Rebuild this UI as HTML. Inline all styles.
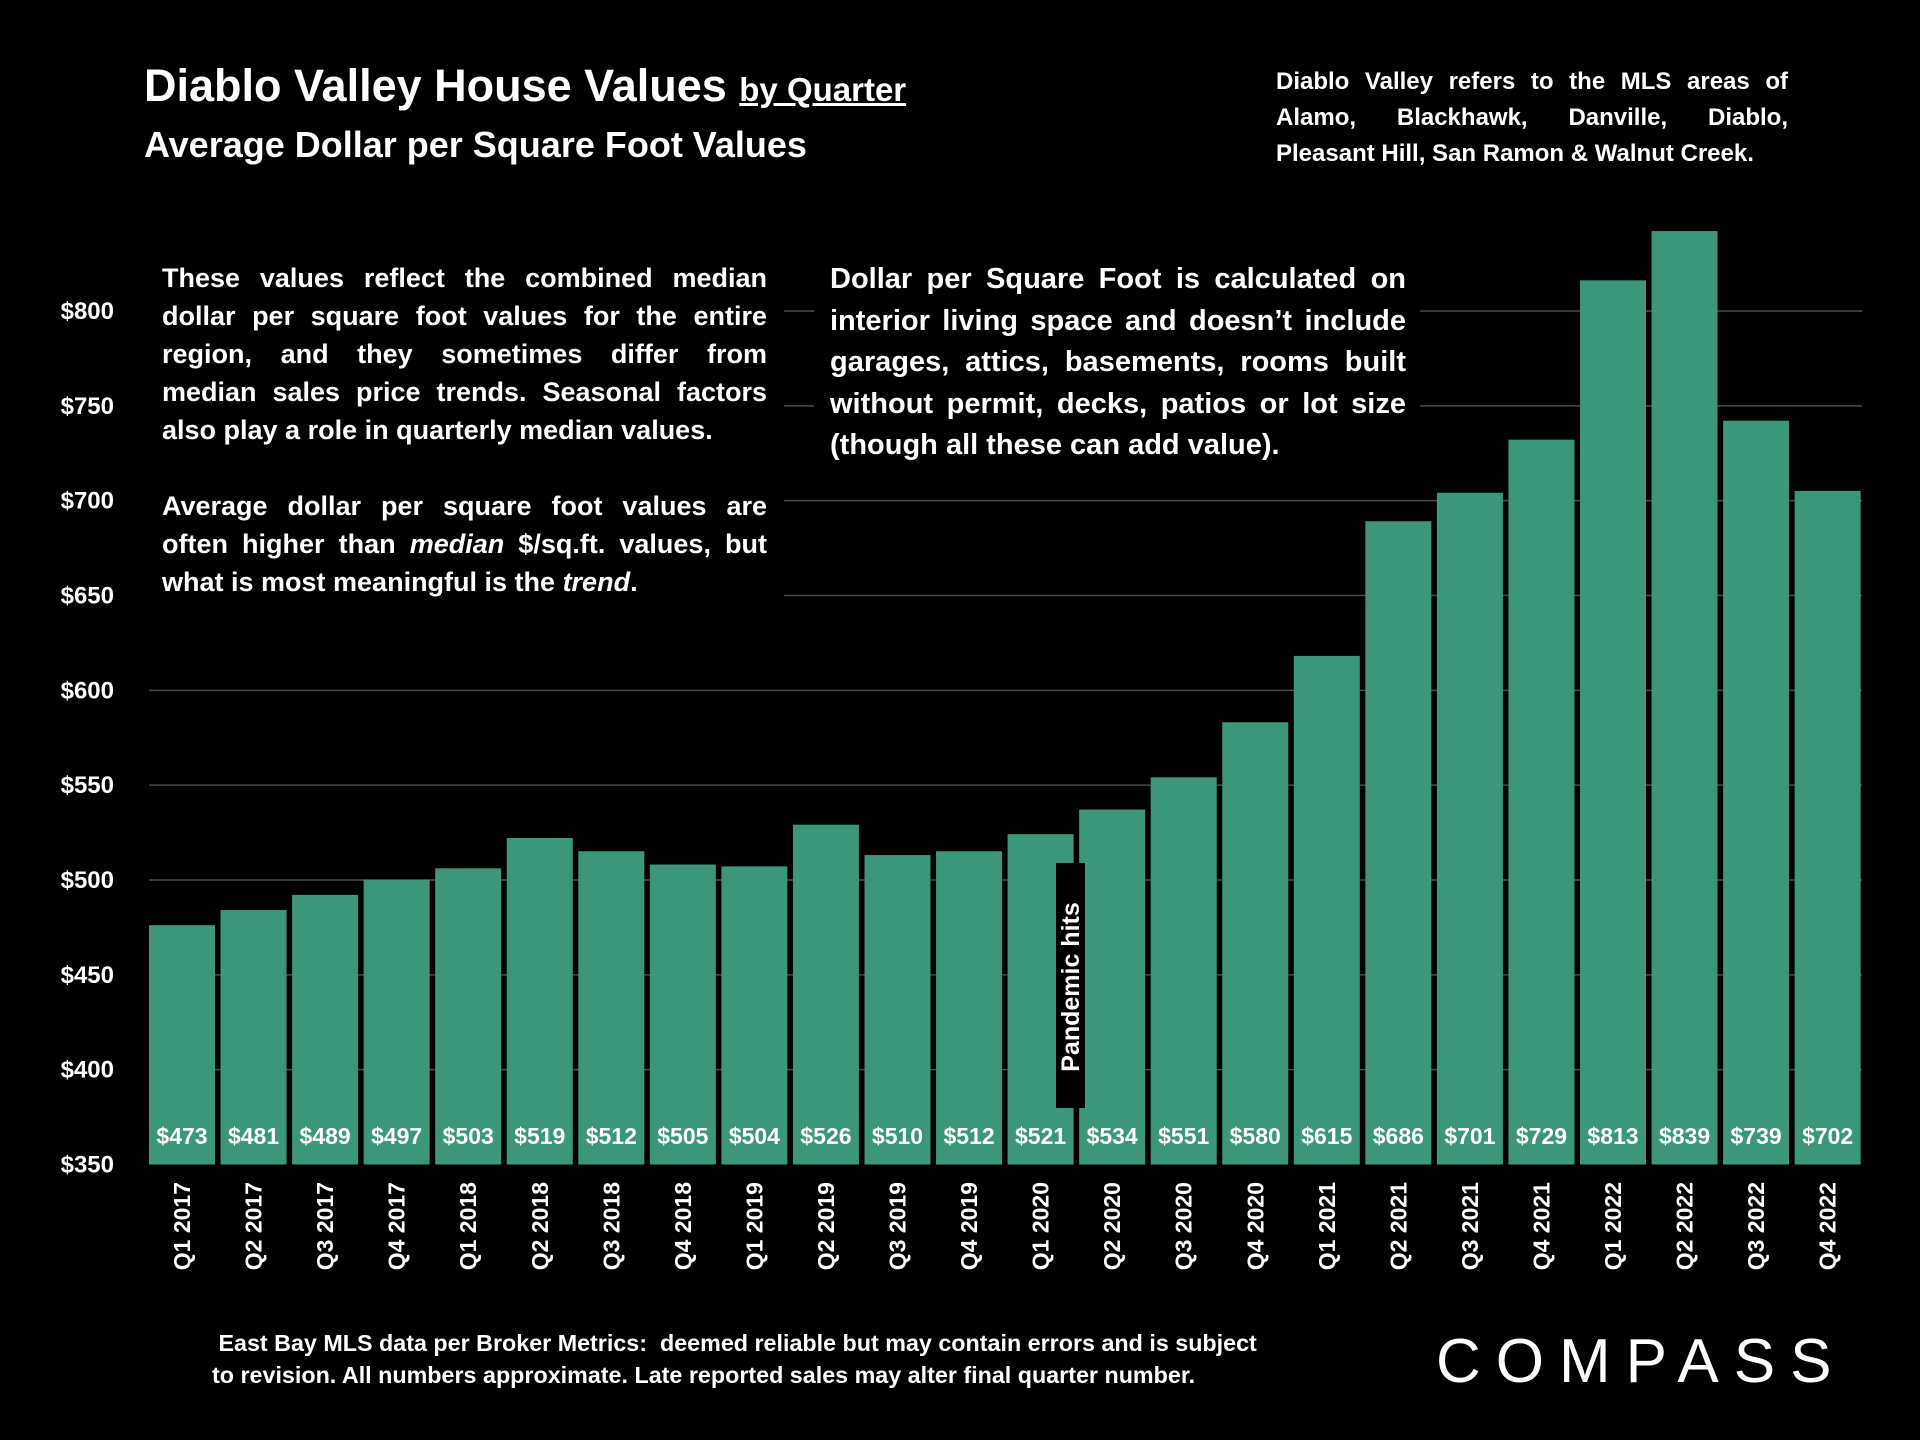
<!DOCTYPE html>
<html><head><meta charset="utf-8"><style>
html,body{margin:0;padding:0;background:#000;}
body{width:1920px;height:1440px;overflow:hidden;position:relative;font-family:"Liberation Sans",sans-serif;color:#fff;font-weight:bold;}
.abs{position:absolute;}
.ln{display:block;text-align:justify;text-align-last:justify;white-space:nowrap;}
.ll{display:block;white-space:nowrap;}
</style></head><body>
<svg id="chart" class="abs" style="left:0;top:0" width="1920" height="1440"></svg>
<div class="abs" style="left:144px;top:60px;font-size:45px;white-space:nowrap">Diablo Valley House Values <span style="font-size:33px;text-decoration:underline">by Quarter</span></div>
<div class="abs" style="left:144px;top:124px;font-size:36px;white-space:nowrap">Average Dollar per Square Foot Values</div>
<div class="abs" style="left:1276px;top:64px;width:512px;font-size:24px;line-height:36px;text-align:justify">Diablo Valley refers to the MLS areas of Alamo, Blackhawk, Danville, Diablo, Pleasant Hill, San Ramon &amp; Walnut Creek.</div>
<div class="abs" style="left:122px;top:251px;width:662px;height:361px;background:#000;">
<div style="margin-left:40px;margin-top:8px;width:605px;font-size:27px;line-height:38px;">
<span class="ln">These values reflect the combined median</span>
<span class="ln">dollar per square foot values for the entire</span>
<span class="ln">region, and they sometimes differ from</span>
<span class="ln">median sales price trends. Seasonal factors</span>
<span class="ll">also play a role in quarterly median values.</span>
<span class="ll">&nbsp;</span>
<span class="ln">Average dollar per square foot values are</span>
<span class="ln">often higher than <i>median</i> $/sq.ft. values, but</span>
<span class="ll">what is most meaningful is the <i>trend</i>.</span>
</div></div>
<div class="abs" style="left:814px;top:251px;width:606px;height:220px;background:#000;">
<div style="margin-left:16px;margin-top:8px;width:576px;font-size:29px;line-height:41.6px;text-align:justify">Dollar per Square Foot is calculated on interior living space and doesn’t include garages, attics, basements, rooms built without permit, decks, patios or lot size (though all these can add value).</div></div>
<div class="abs" style="left:212px;top:1327px;font-size:23.3px;line-height:32px;white-space:nowrap">&nbsp;East Bay MLS data per Broker Metrics:&nbsp; deemed reliable but may contain errors and is subject<br>to revision. All numbers approximate. Late reported sales may alter final quarter number.</div>
<div class="abs" style="left:1436px;top:1326px;font-size:62px;font-weight:normal;letter-spacing:15px;white-space:nowrap">COMPASS</div>
<script>
const categories=["Q1 2017","Q2 2017","Q3 2017","Q4 2017","Q1 2018","Q2 2018","Q3 2018","Q4 2018","Q1 2019","Q2 2019","Q3 2019","Q4 2019","Q1 2020","Q2 2020","Q3 2020","Q4 2020","Q1 2021","Q2 2021","Q3 2021","Q4 2021","Q1 2022","Q2 2022","Q3 2022","Q4 2022"];
const values=[473,481,489,497,503,519,512,505,504,526,510,512,521,534,551,580,615,686,701,729,813,839,739,702];
const yTicks=[350,400,450,500,550,600,650,700,750,800];
const NS="http://www.w3.org/2000/svg";
const svg=document.getElementById('chart');
const y0=1164.5,y1=311,vmin=350,vmax=800;
function y(v){return y0-(v-vmin)/(vmax-vmin)*(y0-y1);}
const left=149,pitch=71.55,bw=66,barLift=6;
function x(i){return left+i*pitch;}
function mk(t,a){const e=document.createElementNS(NS,t);for(const k in a)e.setAttribute(k,a[k]);svg.appendChild(e);return e;}
yTicks.forEach(t=>{
  if(t>vmin){const l=mk('line',{x1:left,x2:1862,y1:y(t),y2:y(t),stroke:'#4a4a4a','stroke-width':1.5});
  
  }
  const tx=mk('text',{x:114,y:y(t)+8,'text-anchor':'end',fill:'#fff','font-size':24,'font-weight':'bold','font-family':'Liberation Sans, sans-serif'});
  tx.textContent='$'+t;
  
  
});
categories.forEach((c,i)=>{
  const top=y(values[i])-barLift;
  const r=mk('rect',{x:x(i),y:top,width:bw,height:y0-top,fill:'#3c967a'});
  
  
  const v=mk('text',{x:x(i)+bw/2,y:1144,'text-anchor':'middle',fill:'#fff','font-size':23,'font-weight':'bold','font-family':'Liberation Sans, sans-serif'});
  v.textContent='$'+values[i];
  
  
  const cx=x(i)+bw/2+8;
  const lb=mk('text',{x:cx,y:1182,'text-anchor':'end',fill:'#fff','font-size':23,'font-weight':'bold','font-family':'Liberation Sans, sans-serif',transform:'rotate(-90 '+cx+' 1182)'});
  lb.textContent=c;
  
  
});
const pb=mk('rect',{x:1056,y:863,width:29,height:245,fill:'#000'});


const pt=mk('text',{x:1079,y:987,'text-anchor':'middle',fill:'#fff','font-size':25,'font-weight':'bold','font-family':'Liberation Sans, sans-serif',transform:'rotate(-90 1079 987)'});
pt.textContent='Pandemic hits';


</script>
</body></html>
